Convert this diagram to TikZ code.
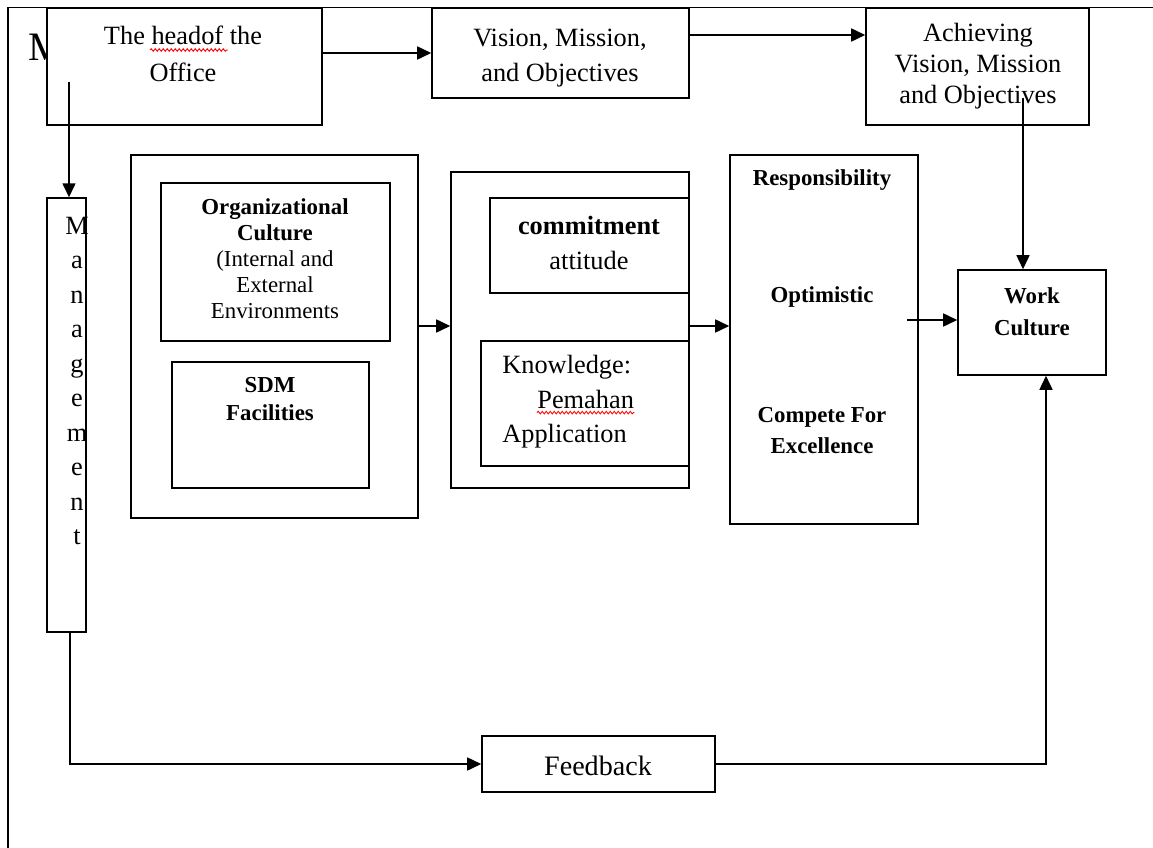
\documentclass[tikz,border=0pt]{standalone}
\usepackage{fontspec}
\setmainfont{Liberation Serif}
\usetikzlibrary{arrows.meta,decorations.pathmorphing}

\begin{document}
\begin{tikzpicture}[x=0.02cm,y=-0.02cm,
    box/.style={draw,line width=0.9pt,fill=white,inner sep=0pt},
    txt/.style={align=center,inner sep=0pt,font=\fontsize{15}{20}\selectfont},
    btxt/.style={align=center,inner sep=0pt,font=\fontsize{13}{15}\selectfont\bfseries},
    arr/.style={line width=0.9pt,-{Triangle[length=0.28cm,width=0.26cm]}},
    spell/.style={red,line width=0.5pt,decorate,decoration={snake,segment length=0.08cm,amplitude=0.025cm}}]
  \useasboundingbox (0,0) rectangle (1153,848);
  \draw[line width=0.9pt] (8,848) -- (8,7.5) -- (1153,7.5);
  \node[inner sep=0pt,font=\fontsize{23}{23}\selectfont] (bigm) at (46,47) {M};

  % top row
  \node[box,minimum width=5.5cm,minimum height=2.34cm] (head) at (184.5,66.5) {};
  \node[txt,font=\fontsize{15}{21}\selectfont] (headtxt) at (183,54) {The headof the\\Office};
  \node[box,minimum width=5.14cm,minimum height=1.8cm] (vision) at (560.5,53) {};
  \node[txt] (vistxt) at (560,58) {Vision, Mission,\\and Objectives};
  \node[box,minimum width=4.46cm,minimum height=2.34cm] (ach) at (977.5,66.5) {};
  \node[txt,font=\fontsize{15}{17.6}\selectfont] (achtxt) at (978,66) {Achieving\\Vision, Mission\\and Objectives};

  % organizational culture
  \node[box,minimum width=5.74cm,minimum height=7.26cm] (org) at (274.5,336.5) {};
  \node[box,minimum width=4.58cm,minimum height=3.16cm] (orgin) at (275.5,262) {};
  \node[txt,font=\fontsize{13}{14.8}\selectfont] (orgtxt) at (275,259)
    {\textbf{Organizational}\\\textbf{Culture}\\(Internal and\\External\\Environments};
  \node[box,minimum width=3.94cm,minimum height=2.52cm] (sdm) at (270.5,425) {};
  \node[btxt,font=\fontsize{13}{16}\selectfont\bfseries] (sdmtxt) at (270,399) {SDM\\Facilities};

  % commitment and knowledge
  \node[box,minimum width=4.76cm,minimum height=6.32cm] (commit) at (570,330) {};
  \node[box,minimum width=3.98cm,minimum height=1.9cm] (comin) at (589.5,245.5) {};
  \node[txt] (comtxt) at (589,243) {\textbf{commitment}\\attitude};
  \node[box,minimum width=4.16cm,minimum height=2.5cm] (know) at (585,403.5) {};
  \node[txt,anchor=base west] (knowtxt) at (502,373) {Knowledge:};
  \node[txt,anchor=base west] (pemtxt) at (537,408) {Pemahan};
  \node[txt,anchor=base west] (apptxt) at (502,442) {Application};
  \draw[spell] ([yshift=-0.08cm]pemtxt.south west) -- ([yshift=-0.08cm]pemtxt.south east);
  \draw[spell] (150,50) -- (228,50);

  % values
  \node[box,minimum width=3.76cm,minimum height=7.38cm] (resp) at (824,339.5) {};
  \node[btxt] (respa) at (822,180) {Responsibility};
  \node[btxt] (respb) at (822,297) {Optimistic};
  \node[btxt,font=\fontsize{13}{17.6}\selectfont\bfseries] (respc) at (822,431) {Compete For\\Excellence};

  \node[box,minimum width=2.96cm,minimum height=2.1cm] (work) at (1032,322.5) {};
  \node[btxt,font=\fontsize{13}{18}\selectfont\bfseries] (worktxt) at (1032,312) {Work\\Culture};

  % management and feedback
  \node[box,minimum width=0.78cm,minimum height=8.68cm] (mgmt) at (66.5,415) {};
  \node[txt,font=\fontsize{15}{19.6}\selectfont] (mgmttxt) at (77,381) {M\\a\\n\\a\\g\\e\\m\\e\\n\\t};
  \node[box,minimum width=4.66cm,minimum height=1.12cm] (fb) at (598.5,764) {};
  \node[txt,font=\fontsize{16}{20}\selectfont] (fbtxt) at (598,766) {Feedback};

  % connectors
  \coordinate (headdrop) at (69,82);
  \coordinate (achdrop) at (1023,98);
  \coordinate (rw) at (907,320);
  \draw[arr] (head.east |- vision.west) -- (vision.west);
  \draw[arr] ([yshift=0.36cm]vision.east) coordinate (va) -- (va -| ach.west);
  \draw[arr] (headdrop) -- (headdrop |- mgmt.north);
  \draw[arr] (achdrop) -- (achdrop |- work.north);
  \draw[arr] ([yshift=0.21cm]org.east) coordinate (oc) -- (oc -| commit.west);
  \draw[arr] ([yshift=0.08cm]commit.east) coordinate (cr) -- (cr -| resp.west);
  \draw[arr] (rw) -- (rw -| work.west);
  \draw[arr] ([xshift=0.07cm]mgmt.south) |- (fb.west);
  \draw[arr] (fb.east) -| ([xshift=0.28cm]work.south);
\end{tikzpicture}
\end{document}
